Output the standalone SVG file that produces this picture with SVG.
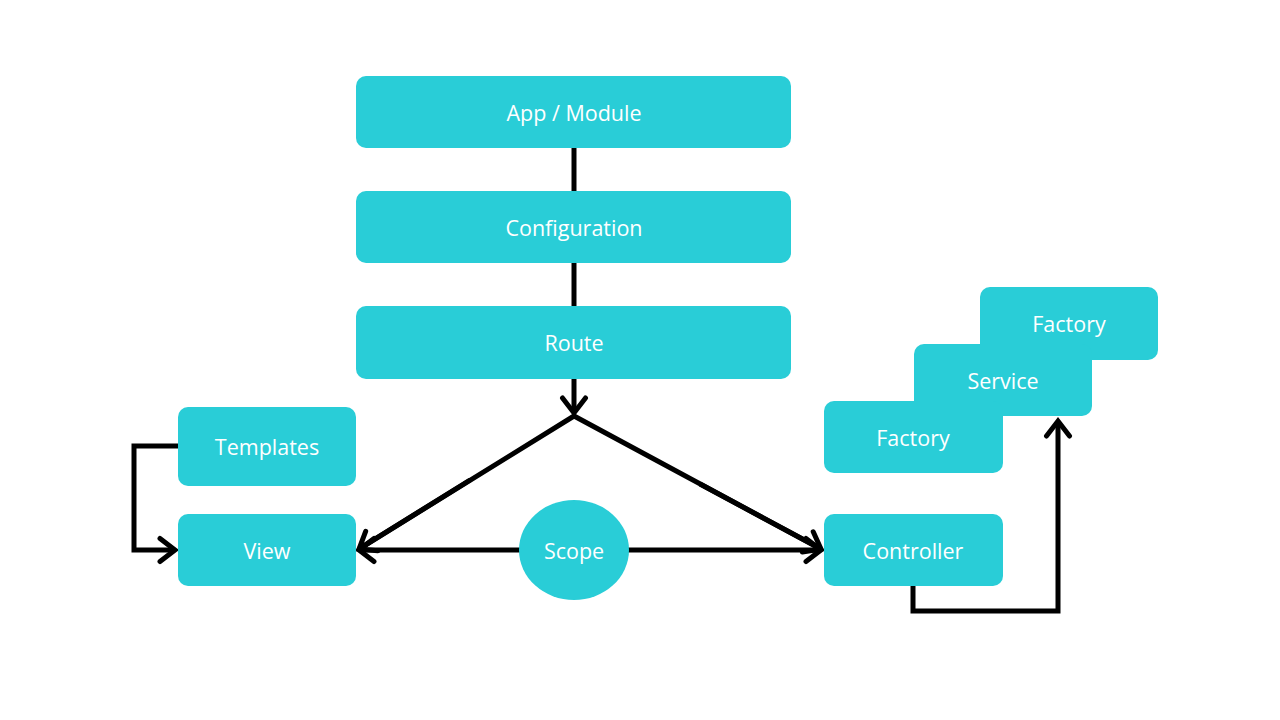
<svg xmlns="http://www.w3.org/2000/svg" width="1280" height="720" viewBox="0 0 1280 720">
<style>
.n{fill:#29CDD7}
.t{fill:#fff;font-family:"Open Sans","Noto Sans",sans-serif;font-size:21.5px;text-anchor:middle;dominant-baseline:central}
.c{fill:none;stroke:#000;stroke-width:5}
</style>
<defs>
<marker id="a" markerUnits="userSpaceOnUse" markerWidth="30" markerHeight="30" viewBox="-20 -15 30 30" refX="0" refY="0" orient="auto">
<path d="M-15,-11.5 L0,0 L-15,11.5" fill="none" stroke="#000" stroke-width="5" stroke-linecap="round" stroke-linejoin="miter"/>
</marker>
</defs>
<rect width="1280" height="720" fill="#fff"/>
<g id="connectors">
<line class="c" x1="574" y1="148" x2="574" y2="191"/>
<line class="c" x1="574" y1="263" x2="574" y2="306"/>
<line class="c" x1="574" y1="379" x2="574" y2="413" marker-end="url(#a)"/>
<polyline class="c" points="359,549 574,416 821,549" stroke-linejoin="miter"/>
<line class="c" x1="470" y1="480" x2="359" y2="549" stroke="none" marker-end="url(#a)"/>
<line class="c" x1="700" y1="484" x2="821" y2="549" stroke="none" marker-end="url(#a)"/>
<line class="c" x1="520" y1="550" x2="359" y2="550" marker-end="url(#a)"/>
<line class="c" x1="628" y1="550" x2="821" y2="550" marker-end="url(#a)"/>
<polyline class="c" points="178,446 134,446 134,550 175,550" marker-end="url(#a)"/>
<polyline class="c" points="913,586 913,611 1058,611 1058,421" marker-end="url(#a)"/>
</g>
<g id="app"><rect class="n" x="356" y="76" width="435" height="72" rx="10"/><text class="t" x="574" y="112">App / Module</text></g>
<g id="configuration"><rect class="n" x="356" y="191" width="435" height="72" rx="10"/><text class="t" x="574" y="227">Configuration</text></g>
<g id="route"><rect class="n" x="356" y="306" width="435" height="73" rx="10"/><text class="t" x="574" y="342">Route</text></g>
<g id="templates"><rect class="n" x="178" y="407" width="178" height="79" rx="10"/><text class="t" x="267" y="446">Templates</text></g>
<g id="view"><rect class="n" x="178" y="514" width="178" height="72" rx="10"/><text class="t" x="267" y="550">View</text></g>
<g id="scope"><ellipse class="n" cx="574" cy="550" rx="55" ry="50"/><text class="t" x="574" y="550">Scope</text></g>
<g id="controller"><rect class="n" x="824" y="514" width="179" height="72" rx="10"/><text class="t" x="913" y="550">Controller</text></g>
<g id="factory2"><rect class="n" x="980" y="287" width="178" height="73" rx="10"/><text class="t" x="1069" y="323">Factory</text></g>
<g id="service"><rect class="n" x="914" y="344" width="178" height="72" rx="10"/><text class="t" x="1003" y="380">Service</text></g>
<g id="factory1"><rect class="n" x="824" y="401" width="179" height="72" rx="10"/><text class="t" x="913" y="437">Factory</text></g>
</svg>
